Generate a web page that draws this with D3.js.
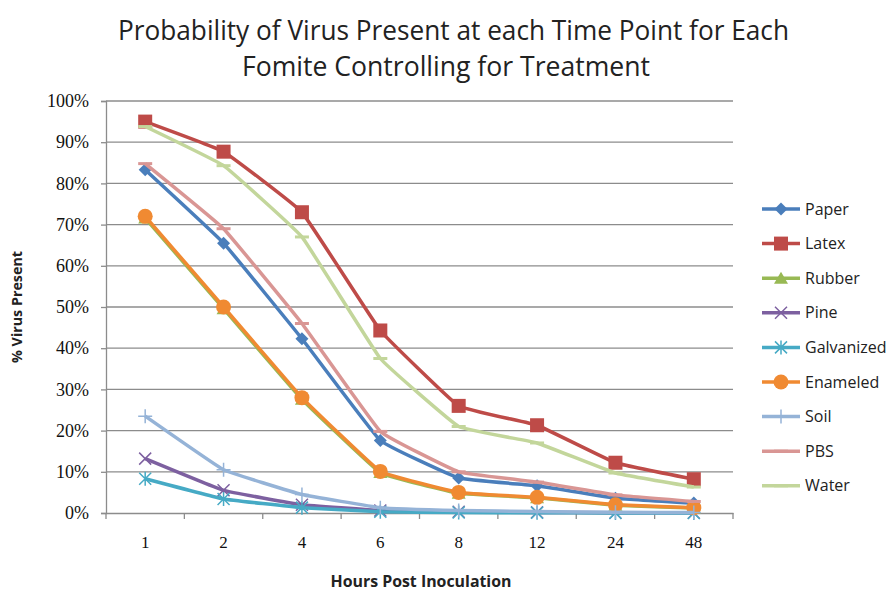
<!DOCTYPE html>
<html>
<head>
<meta charset="utf-8">
<script src="https://cdn.jsdelivr.net/npm/d3@7"></script>
<style>
  body { margin: 0; background: #fff; }
  svg { display: block; }
</style>
</head>
<body>
<div id="chart"></div>
<script>
// hours post inoculation (categorical axis)
const hours = ["1", "2", "4", "6", "8", "12", "24", "48"]

const fomites = ["Paper", "Latex", "Rubber", "Pine", "Galvanized", "Enameled", "Soil", "PBS", "Water"]

// % virus present
const paper      = [83.3, 65.5, 42.3, 17.6, 8.5, 6.6, 3.6, 2.4]
const latex      = [95.0, 87.7, 73.0, 44.3, 26.0, 21.3, 12.2, 8.2]
const rubber     = [71.6, 49.6, 27.6, 9.8, 4.8, 3.7, 1.9, 1.2]
const pine       = [13.2, 5.5, 2.0, 0.6, 0.3, 0.15, 0.08, 0.04]
const galvanized = [8.3, 3.4, 1.3, 0.3, 0.1, 0.06, 0.03, 0.02]
const enameled   = [72.0, 50.0, 28.0, 10.1, 5.0, 3.8, 2.0, 1.3]
const soil       = [23.5, 10.5, 4.5, 1.3, 0.6, 0.35, 0.2, 0.1]
const pbs        = [84.8, 69.0, 46.0, 19.8, 10.0, 7.5, 4.4, 2.8]
const water      = [93.8, 84.3, 67.0, 37.5, 21.0, 17.0, 9.7, 6.3]

const yTicks = [0, 10, 20, 30, 40, 50, 60, 70, 80, 90, 100]

const seriesValues = [paper, latex, rubber, pine, galvanized, enameled, soil, pbs, water]
const colors = ["#4a7ebb", "#be4b48", "#98b954", "#7d60a0", "#46aac5", "#f08a32", "#95b3d7", "#d99694", "#c3d69b"]
const shapes = ["diamond", "square", "triangle", "x", "star", "circle", "plus", "dash", "dash"]

const width = 893, height = 595
const margin = {left: 106, right: 160, top: 101, bottom: 82}

const svg = d3.select("#chart").append("svg")
    .attr("width", width)
    .attr("height", height)

const x = d3.scaleBand()
    .domain(hours)
    .range([margin.left, width - margin.right])

const y = d3.scaleLinear()
    .domain([0, 100])
    .range([height - margin.bottom, margin.top])

const sans = "'Liberation Sans Narrow', 'Open Sans', sans-serif"
const serif = "'Liberation Serif', 'DejaVu Serif', serif"

// title
const title = svg.append("g")
    .attr("font-family", sans)
    .attr("font-size", 27)
    .attr("fill", "#222")
title.append("text")
    .attr("x", 118).attr("y", 40)
    .attr("textLength", 671).attr("lengthAdjust", "spacingAndGlyphs")
    .text("Probability of Virus Present at each Time Point for Each")
title.append("text")
    .attr("x", 242).attr("y", 76)
    .attr("textLength", 408).attr("lengthAdjust", "spacingAndGlyphs")
    .text("Fomite Controlling for Treatment")

// gridlines
svg.append("g")
  .selectAll("line")
  .data(yTicks.slice(1))
  .join("line")
    .attr("x1", margin.left)
    .attr("x2", width - margin.right)
    .attr("y1", d => y(d))
    .attr("y2", d => y(d))
    .attr("stroke", "#8c8c8c")
    .attr("stroke-width", 1.3)

// y axis
const yAxis = svg.append("g")
    .attr("transform", `translate(${margin.left},0)`)
    .call(d3.axisLeft(y).tickValues(yTicks).tickFormat(d => d + "%").tickSize(5).tickPadding(12))
yAxis.select(".domain").attr("stroke", "#8c8c8c").attr("stroke-width", 1.3)
yAxis.selectAll(".tick line").attr("stroke", "#8c8c8c").attr("stroke-width", 1.3)
yAxis.selectAll("text")
    .attr("font-family", serif)
    .attr("font-size", 18)
    .attr("fill", "#111")

// x axis
const xAxis = svg.append("g")
    .attr("transform", `translate(0,${height - margin.bottom})`)
    .call(d3.axisBottom(x).tickSize(0).tickPadding(23))
xAxis.select(".domain").attr("stroke", "#8c8c8c").attr("stroke-width", 1.3)
xAxis.selectAll("text")
    .attr("font-family", serif)
    .attr("font-size", 17)
    .attr("fill", "#111")
// category separators as tick marks
xAxis.selectAll(".sep")
  .data(d3.range(hours.length + 1))
  .join("line")
    .attr("class", "sep")
    .attr("x1", i => margin.left + i * x.step())
    .attr("x2", i => margin.left + i * x.step())
    .attr("y1", 0).attr("y2", 6)
    .attr("stroke", "#8c8c8c")
    .attr("stroke-width", 1.3)

// axis titles
svg.append("text")
    .attr("transform", `translate(22,${(margin.top + height - margin.bottom) / 2}) rotate(-90)`)
    .attr("text-anchor", "middle")
    .attr("font-family", sans)
    .attr("font-weight", "bold")
    .attr("font-size", 15)
    .attr("textLength", 112).attr("lengthAdjust", "spacingAndGlyphs")
    .attr("fill", "#222")
    .text("% Virus Present")

svg.append("text")
    .attr("x", 421).attr("y", 587)
    .attr("text-anchor", "middle")
    .attr("font-family", sans)
    .attr("font-weight", "bold")
    .attr("font-size", 16)
    .attr("textLength", 181).attr("lengthAdjust", "spacingAndGlyphs")
    .attr("fill", "#222")
    .text("Hours Post Inoculation")

function marker(g, shape, color) {
  if (shape === "diamond") {
    g.append("path").attr("d", "M0,-6.5L6.5,0L0,6.5L-6.5,0Z").attr("fill", color)
  } else if (shape === "square") {
    g.append("rect").attr("x", -7).attr("y", -7).attr("width", 14).attr("height", 14).attr("fill", color)
  } else if (shape === "triangle") {
    g.append("path").attr("d", "M0,-6.5L7,5.5L-7,5.5Z").attr("fill", color)
  } else if (shape === "circle") {
    g.append("circle").attr("r", 7.5).attr("fill", color)
  } else if (shape === "x") {
    g.append("path").attr("d", "M-6,-6L6,6M-6,6L6,-6").attr("stroke", color).attr("stroke-width", 1.5)
  } else if (shape === "star") {
    g.append("path").attr("d", "M-6,-6L6,6M-6,6L6,-6M0,-7L0,7").attr("stroke", color).attr("stroke-width", 1.5)
  } else if (shape === "plus") {
    g.append("path").attr("d", "M-7,0L7,0M0,-7L0,7").attr("stroke", color).attr("stroke-width", 1.5)
  } else if (shape === "dash") {
    g.append("path").attr("d", "M-7,0L7,0").attr("stroke", color).attr("stroke-width", 3)
  }
}

// Excel-style smoothed lines, only mildly rounded
const line = d3.line()
    .x((d, i) => x(hours[i]) + x.bandwidth() / 2)
    .y(d => y(d))
    .curve(d3.curveCardinal.tension(0.75))

seriesValues.forEach((values, s) => {
  const g = svg.append("g")
  g.append("path")
      .datum(values)
      .attr("fill", "none")
      .attr("stroke", colors[s])
      .attr("stroke-width", 3.5)
      .attr("stroke-linejoin", "round")
      .attr("d", line)
  g.selectAll("g")
    .data(values)
    .join("g")
      .attr("transform", (d, i) => `translate(${x(hours[i]) + x.bandwidth() / 2},${y(d)})`)
      .each(function() { marker(d3.select(this), shapes[s], colors[s]) })
})

// legend
const legend = svg.append("g")
    .attr("font-family", sans)
    .attr("font-size", 16)
    .attr("fill", "#222")
const rows = legend.selectAll("g")
  .data(fomites)
  .join("g")
    .attr("transform", (d, i) => `translate(762,${209 + i * 34.6})`)
rows.append("line")
    .attr("x1", 0).attr("x2", 38)
    .attr("stroke", (d, i) => colors[i])
    .attr("stroke-width", 3.5)
rows.append("g")
    .attr("transform", "translate(19,0)")
    .each(function(d, i) { marker(d3.select(this), shapes[i], colors[i]) })
rows.append("text")
    .attr("x", 43)
    .attr("dy", "0.35em")
    .text(d => d)
</script>
</body>
</html>
